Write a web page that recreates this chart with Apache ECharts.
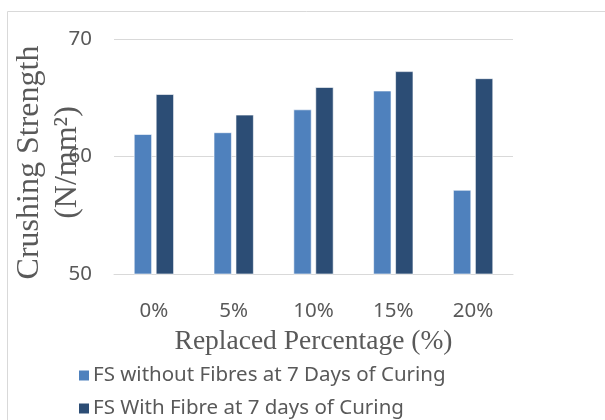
<!DOCTYPE html>
<html><head><meta charset="utf-8">
<script src="https://cdn.jsdelivr.net/npm/echarts@6/dist/echarts.min.js"></script>
<style>html,body{margin:0;padding:0;background:#fff}#c{width:605px;height:420px}</style>
</head><body><div id="c"></div>
<script>
const categories = ['0%', '5%', '10%', '15%', '20%'];
const withoutFibres = [61.9, 62.05, 64.0, 65.6, 57.15];
const withFibre = [65.3, 63.55, 65.9, 67.25, 66.65];
const yTicks = [50, 60, 70];
const seriesNames = ['FS without Fibres at 7 Days of Curing', 'FS With Fibre at 7 days of Curing'];

const chart = echarts.init(document.getElementById('c'));
const sans = 'Noto Sans';
const serif = 'Liberation Serif';
chart.setOption({
  animation: false,
  graphic: [{
    type: 'rect', shape: {x: 7.5, y: 11.5, width: 700, height: 500},
    style: {fill: 'none', stroke: '#d9d9d9', lineWidth: 1}, silent: true
  }],
  grid: {left: 114, right: 92, top: 39, bottom: 146, outerBoundsMode: 'none', containLabel: false},
  legend: {
    orient: 'vertical', left: 77, top: 365, height: 120, padding: 0, itemWidth: 12, itemHeight: 12, itemGap: 12,
    icon: 'rect',
    textStyle: {fontFamily: sans, fontSize: 20.5, lineHeight: 20, color: '#595959', padding: [0,0,0,-2]},
    data: seriesNames
  },
  xAxis: {
    type: 'category', data: categories,
    axisLine: {show: true, lineStyle: {color: '#d9d9d9'}},
    axisTick: {show: false},
    axisLabel: {fontFamily: sans, fontSize: 20.5, color: '#595959', margin: 27},
    name: 'Replaced Percentage (%)', nameLocation: 'middle', nameGap: 54, nameMoveOverlap: false,
    nameTextStyle: {fontFamily: serif, fontSize: 27.5, color: '#595959'}
  },
  yAxis: {
    type: 'value', min: yTicks[0], max: yTicks[yTicks.length-1], interval: 10,
    axisLine: {show: false}, axisTick: {show: false},
    splitLine: {lineStyle: {color: '#d9d9d9', width: 1}},
    axisLabel: {fontFamily: sans, fontSize: 20.5, color: '#595959', margin: 22},
    name: 'Crushing Strength\n(N/mm²)', nameLocation: 'middle', nameRotate: 90, nameGap: 27, nameMoveOverlap: false,
    nameTextStyle: {fontFamily: serif, fontSize: 32, color: '#595959', lineHeight: 38, align: 'center', padding: [0, 12, 0, 0]}
  },
  series: [
    {name: seriesNames[0], type: 'bar', data: withoutFibres, barWidth: 18, barGap: '22%',
     itemStyle: {color: '#4f81bd', borderColor: '#ffffff', borderWidth: 0.6}},
    {name: seriesNames[1], type: 'bar', data: withFibre, barWidth: 18,
     itemStyle: {color: '#2c4d75', borderColor: '#ffffff', borderWidth: 0.6}}
  ]
});
</script></body></html>
